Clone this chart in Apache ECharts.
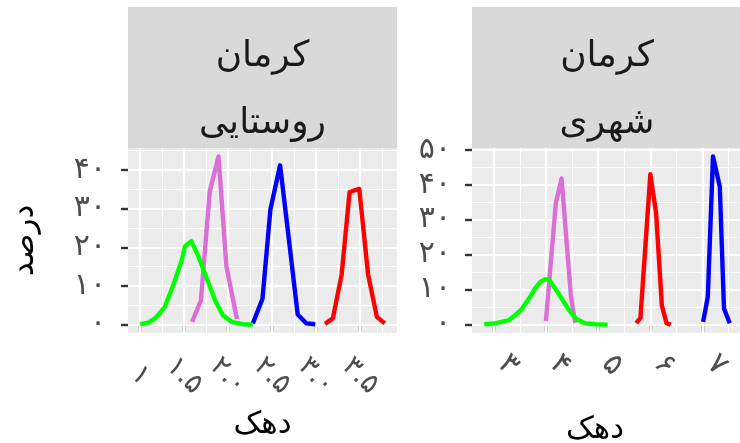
<!DOCTYPE html>
<html>
<head>
<meta charset="utf-8">
<script src="https://cdn.jsdelivr.net/npm/echarts@6/dist/echarts.min.js"></script>
<style>html,body{margin:0;padding:0;background:#fff}#c{width:740px;height:443px}</style>
</head>
<body>
<div id="c"></div>
<script>
// ---- data (x = دهک value, y = درصد) ----
const leftGreenX  = [1.00, 1.09, 1.17, 1.28, 1.38, 1.47, 1.51, 1.58, 1.66, 1.75, 1.85, 1.94, 2.04, 2.17, 2.28];
const leftGreenY  = [0.1, 0.5, 1.6, 4.6, 10.5, 16.5, 20.3, 21.6, 17.7, 12.3, 6.3, 2.4, 0.7, 0.1, 0.0];
const leftVioletX = [1.59, 1.69, 1.79, 1.89, 1.98, 2.10];
const leftVioletY = [0.7, 6.3, 34.4, 43.5, 15.0, 1.4];
const leftBlueX   = [2.28, 2.39, 2.48, 2.59, 2.69, 2.79, 2.89, 2.99];
const leftBlueY   = [0.3, 6.7, 29.8, 41.2, 22.0, 2.6, 0.3, 0.1];
const leftRedX    = [3.10, 3.19, 3.29, 3.38, 3.49, 3.59, 3.69, 3.78];
const leftRedY    = [0.2, 1.6, 13.0, 34.3, 35.1, 13.0, 2.0, 0.3];

const rightGreenX  = [2.82, 3.04, 3.30, 3.52, 3.71, 3.80, 3.90, 3.99, 4.07, 4.20, 4.33, 4.44, 4.58, 4.75, 4.95, 5.18];
const rightGreenY  = [0.1, 0.4, 1.3, 4.1, 8.2, 10.5, 12.3, 13.0, 12.7, 9.8, 6.8, 4.2, 1.6, 0.4, 0.1, 0.0];
const rightVioletX = [4.00, 4.19, 4.30, 4.48, 4.56];
const rightVioletY = [1.0, 34.7, 41.8, 8.0, 0.5];
const rightRedX    = [5.73, 5.81, 6.00, 6.11, 6.22, 6.31, 6.39];
const rightRedY    = [0.4, 1.9, 43.0, 31.9, 5.5, 0.4, 0.0];
const rightBlueX   = [7.01, 7.10, 7.20, 7.33, 7.41, 7.52];
const rightBlueY   = [0.8, 7.9, 48.1, 39.4, 4.6, 0.4];

// ---- ticks / labels ----
const leftXTicks  = [1, 1.5, 2, 2.5, 3, 3.5];
const leftXLabels = ['۱', '۱.۵', '۲.۰', '۲.۵', '۳.۰', '۳.۵'];
const leftXMinor  = [1.25, 1.75, 2.25, 2.75, 3.25, 3.75];
const leftYTicks  = [0, 10, 20, 30, 40];
const leftYLabels = ['۰', '۱۰', '۲۰', '۳۰', '۴۰'];
const leftYMinor  = [5, 15, 25, 35, 45];

const rightXTicks  = [3, 4, 5, 6, 7];
const rightXLabels = ['۳', '۴', '۵', '۶', '۷'];
const rightXMinor  = [3.5, 4.5, 5.5, 6.5, 7.5];
const rightYTicks  = [0, 10, 20, 30, 40, 50];
const rightYLabels = ['۰', '۱۰', '۲۰', '۳۰', '۴۰', '۵۰'];
const rightYMinor  = [5, 15, 25, 35, 45];

const stripTop    = ['کرمان', 'کرمان'];
const stripBottom = ['روستایی', 'شهری'];
const xTitle = 'دهک';
const yTitle = 'درصد';

const colors = { green: '#00FF00', violet: '#DA70D6', blue: '#0000FF', red: '#FF0000' };

// ---- helpers ----
const FONT = 'DejaVu Sans';
function zip(xs, ys) { return xs.map((x, i) => [x, ys[i]]); }
function expandRange(list) {
  const all = [].concat(...list);
  const lo = Math.min(...all), hi = Math.max(...all);
  const pad = (hi - lo) * 0.05;
  return [lo - pad, hi + pad];
}
function labelFor(ticks, labels) {
  return v => { const i = ticks.findIndex(t => Math.abs(t - v) < 1e-6); return i >= 0 ? labels[i] : ''; };
}
const lx = expandRange([leftGreenX, leftVioletX, leftBlueX, leftRedX]);
const ly = expandRange([leftGreenY, leftVioletY, leftBlueY, leftRedY]);
const rx = expandRange([rightGreenX, rightVioletX, rightBlueX, rightRedX]);
const ry = expandRange([rightGreenY, rightVioletY, rightBlueY, rightRedY]);

function gridLines(xMaj, xMin, yMaj, yMin) {
  const d = [];
  xMin.forEach(v => d.push({ xAxis: v, lineStyle: { color: '#FFFFFF', width: 1.1, type: 'solid' } }));
  yMin.forEach(v => d.push({ yAxis: v, lineStyle: { color: '#FFFFFF', width: 1.1, type: 'solid' } }));
  xMaj.forEach(v => d.push({ xAxis: v, lineStyle: { color: '#FFFFFF', width: 2.2, type: 'solid' } }));
  yMaj.forEach(v => d.push({ yAxis: v, lineStyle: { color: '#FFFFFF', width: 2.2, type: 'solid' } }));
  return d;
}
function gridSeries(idx, xMaj, xMin, yMaj, yMin) {
  return {
    type: 'line', xAxisIndex: idx, yAxisIndex: idx, data: [], z: 1, silent: true,
    markLine: { z: 1, silent: true, symbol: ['none', 'none'], animation: false, label: { show: false },
      emphasis: { disabled: true }, data: gridLines(xMaj, xMin, yMaj, yMin) }
  };
}
function lineSeries(idx, xs, ys, color) {
  return {
    type: 'line', xAxisIndex: idx, yAxisIndex: idx, data: zip(xs, ys), showSymbol: false,
    symbol: 'none', z: 6, silent: true, animation: false,
    lineStyle: { color: color, width: 4.4, join: 'round', cap: 'butt' }
  };
}
const tickStyle = { show: true, length: 7, lineStyle: { color: '#333333', width: 2.4 } };
const tickText = { color: '#4D4D4D', fontSize: 30, fontFamily: FONT };

function xAxisDef(idx, range, ticks, labels, nameGap, labelOpts, namePad) {
  return {
    gridIndex: idx, type: 'value', min: range[0], max: range[1],
    axisLine: { show: false }, splitLine: { show: false },
    axisTick: Object.assign({ customValues: ticks }, tickStyle),
    axisLabel: Object.assign({ customValues: ticks, formatter: labelFor(ticks, labels), rotate: -45,
      verticalAlign: 'middle', showMinLabel: true, showMaxLabel: true }, tickText, labelOpts),
    name: xTitle, nameLocation: 'middle', nameGap: nameGap,
    nameTextStyle: { color: '#000', fontSize: 31, fontFamily: FONT, padding: namePad }
  };
}
function yAxisDef(idx, range, ticks, labels, withName, margin) {
  const a = {
    gridIndex: idx, type: 'value', min: range[0], max: range[1],
    axisLine: { show: false }, splitLine: { show: false },
    axisTick: Object.assign({ customValues: ticks }, tickStyle),
    axisLabel: Object.assign({ customValues: ticks, formatter: labelFor(ticks, labels), margin: margin }, tickText)
  };
  if (withName) {
    a.name = yTitle; a.nameLocation = 'middle'; a.nameGap = 88; a.nameRotate = 90;
    a.nameTextStyle = { color: '#000', fontSize: 31, fontFamily: FONT };
  }
  return a;
}

const panels = [{ left: 128, width: 269 }, { left: 472, width: 270 }];
const panelTop = 148, panelHeight = 185, stripY = 7;

const graphics = [];
panels.forEach((p, i) => {
  graphics.push({ type: 'rect', z: 100, shape: { x: p.left, y: stripY, width: p.width, height: panelTop - stripY },
    style: { fill: '#D9D9D9' } });
  graphics.push({ type: 'text', z: 101, x: p.left + p.width / 2, y: 57,
    style: { text: stripTop[i], fill: '#1A1A1A', font: '36px "' + FONT + '"', align: 'center', verticalAlign: 'middle' } });
  graphics.push({ type: 'text', z: 101, x: p.left + p.width / 2, y: 124,
    style: { text: stripBottom[i], fill: '#1A1A1A', font: '36px "' + FONT + '"', align: 'center', verticalAlign: 'middle' } });
});

const option = {
  animation: false,
  backgroundColor: '#FFFFFF',
  grid: panels.map(p => ({ left: p.left, top: panelTop, width: p.width, height: panelHeight, show: true,
    backgroundColor: '#EBEBEB', borderWidth: 0, containLabel: false, outerBoundsMode: 'none' })),
  xAxis: [
    xAxisDef(0, lx, leftXTicks, leftXLabels, 76, { align: 'center', margin: 43, fontSize: 28 }, 0),
    xAxisDef(1, rx, rightXTicks, rightXLabels, 81, { align: 'left', margin: 18, padding: [0, 0, 0, 12] }, [0, 24, 0, 0])
  ],
  yAxis: [yAxisDef(0, ly, leftYTicks, leftYLabels, true, 22), yAxisDef(1, ry, rightYTicks, rightYLabels, false, 21)],
  graphic: { elements: graphics },
  series: [
    gridSeries(0, leftXTicks, leftXMinor, leftYTicks, leftYMinor),
    gridSeries(1, rightXTicks, rightXMinor, rightYTicks, rightYMinor),
    lineSeries(0, leftVioletX, leftVioletY, colors.violet),
    lineSeries(0, leftBlueX, leftBlueY, colors.blue),
    lineSeries(0, leftRedX, leftRedY, colors.red),
    lineSeries(0, leftGreenX, leftGreenY, colors.green),
    lineSeries(1, rightVioletX, rightVioletY, colors.violet),
    lineSeries(1, rightBlueX, rightBlueY, colors.blue),
    lineSeries(1, rightRedX, rightRedY, colors.red),
    lineSeries(1, rightGreenX, rightGreenY, colors.green)
  ]
};
const chart = echarts.init(document.getElementById('c'), null, { renderer: 'canvas', width: 740, height: 443 });
chart.setOption(option);
</script>
</body>
</html>
